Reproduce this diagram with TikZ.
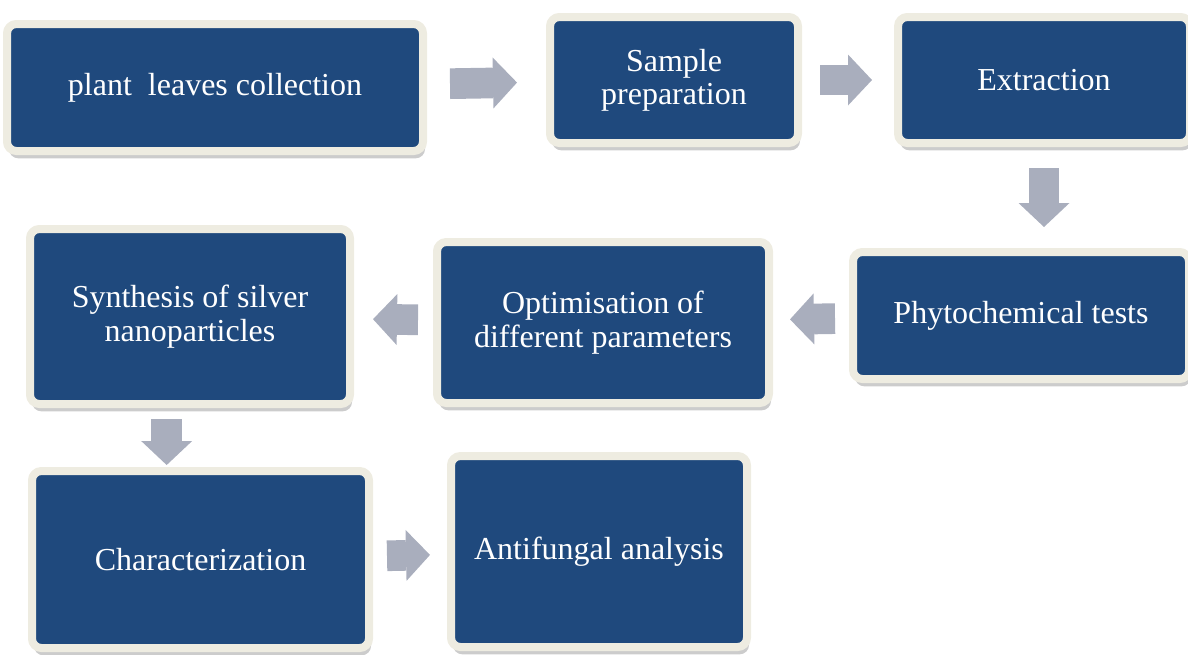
\documentclass[tikz,border=0pt]{standalone}
\usepackage{fontspec}
\setmainfont{Liberation Serif}
\usepackage{xcolor}
\usepackage{tikz}
\usetikzlibrary{
    shapes,
    positioning,
    shadows,
    calc,
    arrows.meta
}
\definecolor{boxblue}{HTML}{1F497D}
\definecolor{boxrim}{HTML}{EEECE1}
\definecolor{flowgray}{HTML}{A9AEBD}
\tikzset{
  stepbox/.style = {
      rectangle,
      draw=boxrim,
      line width=6pt,
      rounded corners=7pt,
      fill=boxblue,
      text=white,
      align=center,
      font=\fontsize{24}{25}\selectfont,
      drop shadow={shadow xshift=1.5pt, shadow yshift=-5.5pt, opacity=.2, fill=black}
  },
  flow/.style = {
      draw=flowgray,
      line width=23pt,
      -{Triangle[width=38.25pt, length=18pt, line width=0pt]}
  }
}

\begin{document}
\begin{tikzpicture}[x=0.75pt, y=-0.75pt]
    \useasboundingbox (0,0) rectangle (1188,654);
    % Nodes
    \node[stepbox, minimum width=312pt, minimum height=95.25pt] (leaves) at (215,87.5) {plant\ \ leaves collection};
    \node[stepbox, minimum width=186pt, minimum height=94.5pt] (prep) at (674,80) {Sample\\preparation};
    \node[stepbox, minimum width=219pt, minimum height=94.5pt] (extract) at (1044,80) {Extraction};
    \node[stepbox, minimum width=252pt, minimum height=95.25pt] (phyto) at (1021,315.5) {Phytochemical tests};
    \node[stepbox, minimum width=249pt, minimum height=120.75pt] (optim) at (603,322.5) {Optimisation of\\different parameters};
    \node[stepbox, minimum width=240pt, minimum height=131.25pt] (synth) at (190,316.5) {Synthesis of silver\\nanoparticles};
    \node[stepbox, minimum width=252.75pt, minimum height=132.75pt] (charac) at (200.5,559.5) {Characterization};
    \node[stepbox, minimum width=222pt, minimum height=143.25pt] (anti) at (599,551.5) {Antifungal analysis};
    % Arrows
    \draw[flow, shorten <=17.25pt, shorten >=21.75pt] (leaves) -- (prep);
    \draw[flow, shorten <=13.5pt, shorten >=16.5pt] (prep) -- (extract);
    \draw[flow, shorten <=15.75pt, shorten >=15.75pt] (extract.south) -- (extract.south |- phyto.north);
    \draw[flow, shorten <=10.5pt, shorten >=12.75pt] (phyto) -- (optim);
    \draw[flow, shorten <=11.25pt, shorten >=14.25pt] (optim) -- (synth);
    \draw[flow, shorten <=8.25pt, shorten >=1.5pt] ([xshift=-17.5pt]synth.south) -- ([xshift=-17.5pt]synth.south |- charac.north);
    \draw[flow, shorten <=10.5pt, shorten >=12.75pt] (charac) -- (anti);
\end{tikzpicture}
\end{document}
